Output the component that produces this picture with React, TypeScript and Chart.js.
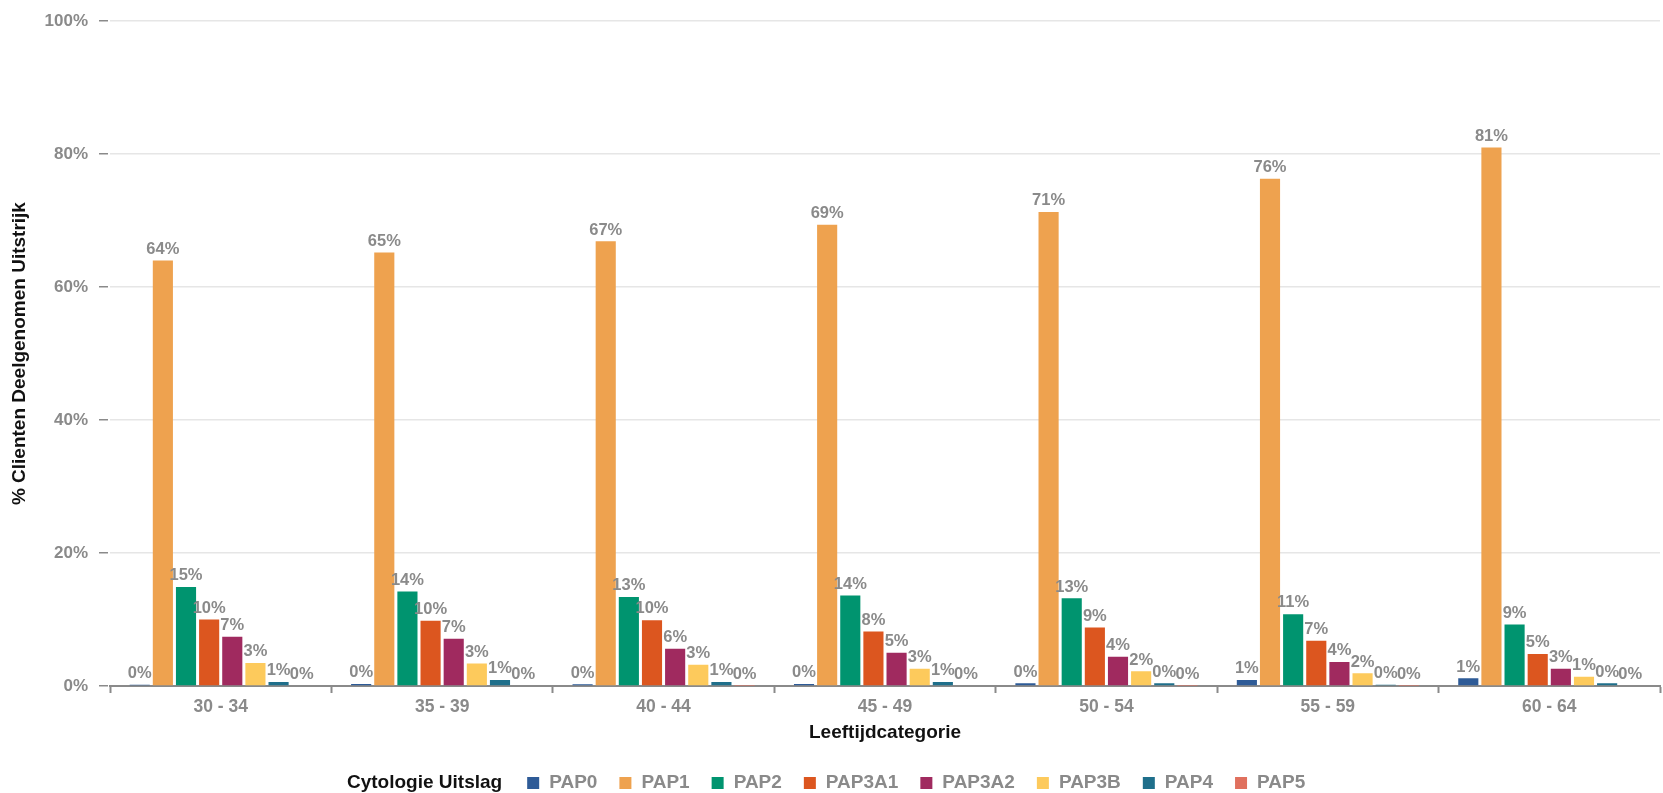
import React, { useEffect, useRef } from "react";
import { Chart, registerables } from "chart.js";

Chart.register(...registerables);

const categories = ["30 - 34", "35 - 39", "40 - 44", "45 - 49", "50 - 54", "55 - 59", "60 - 64"];
const seriesNames = ["PAP0", "PAP1", "PAP2", "PAP3A1", "PAP3A2", "PAP3B", "PAP4", "PAP5"];
const pap0 = [0.2, 0.3, 0.25, 0.3, 0.4, 0.9, 1.15];
const pap1 = [64.0, 65.2, 66.9, 69.4, 71.3, 76.3, 81.0];
const pap2 = [14.9, 14.2, 13.4, 13.6, 13.2, 10.8, 9.25];
const pap3a1 = [10.0, 9.8, 9.9, 8.2, 8.8, 6.8, 4.8];
const pap3a2 = [7.4, 7.1, 5.6, 5.0, 4.4, 3.6, 2.6];
const pap3b = [3.45, 3.4, 3.2, 2.6, 2.2, 1.9, 1.4];
const pap4 = [0.6, 0.9, 0.6, 0.6, 0.4, 0.2, 0.4];
const pap5 = [0.1, 0.1, 0.05, 0.1, 0.05, 0.05, 0.1];
const seriesValues = [pap0, pap1, pap2, pap3a1, pap3a2, pap3b, pap4, pap5];
const seriesColors = ["#2e5b97", "#eea24f", "#00946f", "#dc561f", "#a02a5f", "#fdca5c", "#1f6f8b", "#e0705e"];
const yTicks = [0, 20, 40, 60, 80, 100];

const xTitle = "Leeftijdcategorie";
const yTitle = "% Clienten Deelgenomen Uitstrijk";
const legendTitle = "Cytologie Uitslag";

const FONT = "'Liberation Sans', Arial, sans-serif";
const GRAY = "#8a8a8a";

const dataLabelPlugin = {
  id: "dataLabels",
  afterDatasetsDraw(chart: any) {
    const ctx = chart.ctx;
    ctx.save();
    ctx.font = `bold 16.5px ${FONT}`;
    ctx.fillStyle = GRAY;
    ctx.textAlign = "center";
    ctx.textBaseline = "bottom";
    chart.data.datasets.forEach((ds: any, di: number) => {
      const meta = chart.getDatasetMeta(di);
      meta.data.forEach((el: any, i: number) => {
        const v = ds.data[i];
        ctx.fillText(Math.round(v) + "%", el.x, el.y - 3);
      });
    });
    ctx.restore();
  },
};

const legendPlugin = {
  id: "inlineLegend",
  afterDraw(chart: any) {
    const ctx = chart.ctx;
    ctx.save();
    const cy = 783;
    ctx.textBaseline = "middle";
    ctx.textAlign = "left";
    ctx.font = `bold 19px ${FONT}`;
    ctx.fillStyle = "#111";
    let x = 347;
    ctx.fillText(legendTitle, x, cy);
    x += ctx.measureText(legendTitle).width + 25;
    chart.data.datasets.forEach((ds: any) => {
      ctx.fillStyle = ds.backgroundColor;
      ctx.fillRect(x, cy - 6, 12, 12);
      x += 12 + 10;
      ctx.fillStyle = GRAY;
      ctx.fillText(ds.label, x, cy);
      x += ctx.measureText(ds.label).width + 22;
    });
    ctx.restore();
  },
};

export default function App() {
  const ref = useRef<HTMLCanvasElement | null>(null);

  useEffect(() => {
    if (!ref.current) return;
    const chart = new Chart(ref.current, {
      type: "bar",
      data: {
        labels: categories,
        datasets: seriesNames.map((name, i) => ({
          label: name,
          data: seriesValues[i],
          backgroundColor: seriesColors[i],
          borderWidth: 0,
          categoryPercentage: 0.836,
          barPercentage: 0.87,
        })),
      },
      options: {
        animation: false,
        responsive: false,
        devicePixelRatio: 1,
        layout: { padding: { top: 19, right: 3, bottom: 0, left: 0 } },
        plugins: {
          legend: { display: false },
          tooltip: { enabled: false },
          title: { display: false },
        },
        scales: {
          x: {
            grid: {
              display: true,
              offset: true,
              drawOnChartArea: false,
              drawTicks: true,
              tickLength: 7,
              tickColor: "#8a8a8a",
              tickWidth: 2,
            },
            border: { display: true, color: "#8a8a8a", width: 2 },
            ticks: {
              color: GRAY,
              font: { family: FONT, size: 17.5, weight: "bold" },
              padding: 4,
              maxRotation: 0,
            },
            title: {
              display: true,
              text: xTitle,
              color: "#111",
              font: { family: FONT, size: 19, weight: "bold" },
              padding: { top: 0, bottom: 49 },
            },
            afterFit(scale: any) {
              scale.height = 107;
            },
          },
          y: {
            min: 0,
            max: 100,
            afterBuildTicks(scale: any) {
              scale.ticks = yTicks.map((v) => ({ value: v }));
            },
            grid: {
              color: "#e6e6e6",
              lineWidth: 1.5,
              drawTicks: true,
              tickLength: 11,
              tickColor: "#8a8a8a",
              tickWidth: 1.5,
              tickBorderDash: [9, 30],
            },
            border: { display: false },
            ticks: {
              color: GRAY,
              font: { family: FONT, size: 17, weight: "bold" },
              padding: 11,
              callback: (v: any) => v + "%",
            },
            title: {
              display: true,
              text: yTitle,
              color: "#111",
              font: { family: FONT, size: 19, weight: "bold" },
              padding: { top: 8.6, bottom: 0 },
            },
            afterFit(scale: any) {
              scale.width = 110;
            },
          },
        },
      },
      plugins: [dataLabelPlugin, legendPlugin],
    });
    return () => chart.destroy();
  }, []);

  return (
    <div style={{ position: "fixed", left: 0, top: 0, width: 1663, height: 793, background: "#fff" }}>
      <canvas ref={ref} width={1663} height={793} style={{ display: "block", width: 1663, height: 793 }} />
    </div>
  );
}
